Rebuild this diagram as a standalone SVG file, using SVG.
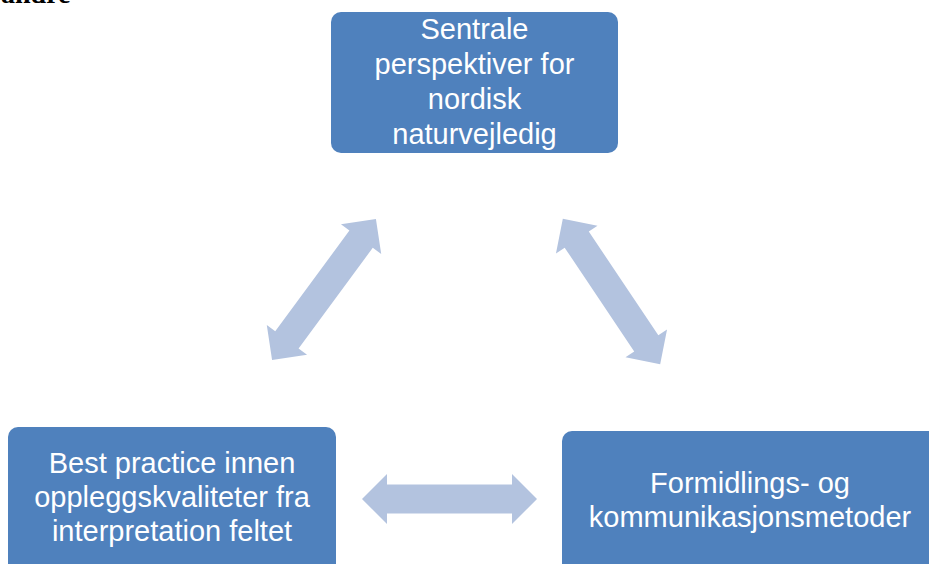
<svg xmlns="http://www.w3.org/2000/svg" xmlns:xlink="http://www.w3.org/1999/xlink" width="929" height="564" viewBox="0 0 929 564">
  <style>
    .box { fill: #4F81BD; }
    .lbl { fill: #FFFFFF; font-family: "Liberation Sans", Arial, sans-serif; font-size: 29px; text-anchor: middle; }
    .arr { fill: #B3C3DF; }
    .cut { fill: #000000; font-family: "Liberation Serif", "Times New Roman", serif; font-size: 28px; font-weight: bold; }
  </style>
  <defs>
    <path id="dbl" d="M -87.5 0 L -62.5 -25 L -62.5 -14.5 L 62.5 -14.5 L 62.5 -25 L 87.5 0 L 62.5 25 L 62.5 14.5 L -62.5 14.5 L -62.5 25 Z"/>
  </defs>
  <rect width="929" height="564" fill="#FFFFFF"/>
  <text class="cut" x="1" y="3">andre</text>

  <g id="connectors">
    <use xlink:href="#dbl" class="arr" transform="translate(324 289.5) rotate(-53.6)"/>
    <use xlink:href="#dbl" class="arr" transform="translate(611.5 291.5) rotate(56.2)"/>
    <use xlink:href="#dbl" class="arr" transform="translate(449.5 499)"/>
  </g>

  <g id="node-top">
    <rect class="box" x="331" y="12" width="287" height="141" rx="10"/>
    <text class="lbl" x="474.5" y="39">Sentrale</text>
    <text class="lbl" x="474.5" y="74">perspektiver for</text>
    <text class="lbl" x="474.5" y="109">nordisk</text>
    <text class="lbl" x="474.5" y="144">naturvejledig</text>
  </g>

  <g id="node-left">
    <rect class="box" x="8" y="427" width="328" height="150" rx="10"/>
    <text class="lbl" x="172" y="473">Best practice innen</text>
    <text class="lbl" x="172" y="507">oppleggskvaliteter fra</text>
    <text class="lbl" x="172" y="541">interpretation feltet</text>
  </g>

  <g id="node-right">
    <rect class="box" x="562" y="431" width="380" height="150" rx="10"/>
    <text class="lbl" x="750" y="493">Formidlings- og</text>
    <text class="lbl" x="750" y="527">kommunikasjonsmetoder</text>
  </g>
</svg>
